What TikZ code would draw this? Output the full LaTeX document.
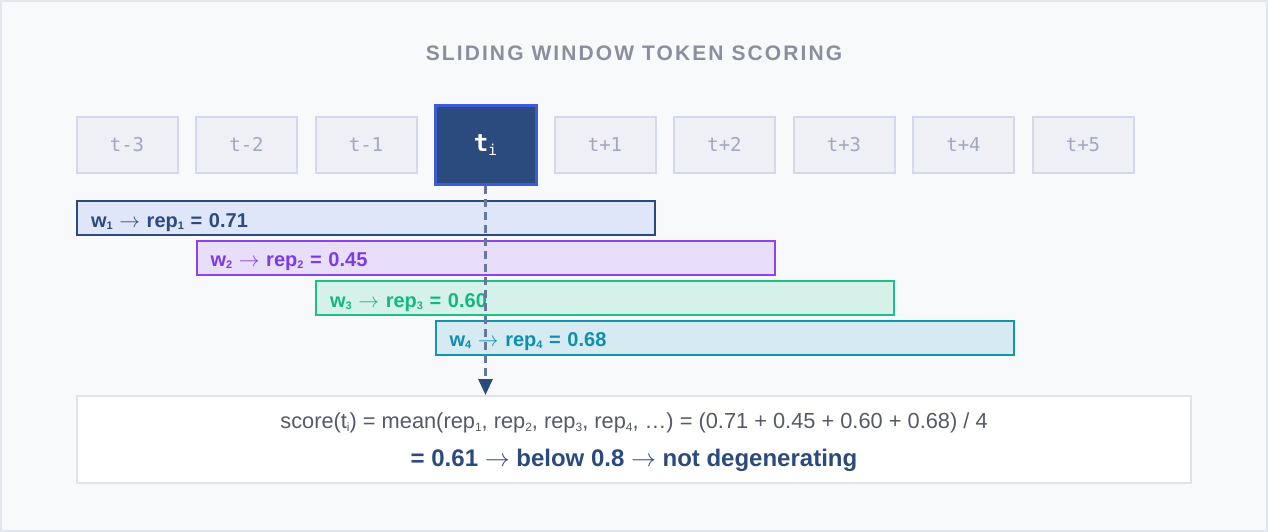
\documentclass[tikz,border=0pt]{standalone}
\usepackage{fontspec}
\setmainfont{Liberation Sans}
\newfontfamily\monofont{DejaVu Sans Mono}
\newfontfamily\titlefont[LetterSpace=10]{Liberation Sans}
\usetikzlibrary{arrows.meta}
\newcommand{\sbd}[1]{\raisebox{-0.12em}{\fontsize{0.55em}{0.6em}\selectfont #1}}
\newcommand{\arr}{ $\rightarrow$ }
\definecolor{bgc}{HTML}{F8F9FB}
\definecolor{framec}{HTML}{E3E6EC}
\definecolor{tokfill}{HTML}{EEF0F6}
\definecolor{tokdraw}{HTML}{D3D8EA}
\definecolor{toktext}{HTML}{A0A8C0}
\definecolor{navy}{HTML}{2B4A7E}
\definecolor{tiborder}{HTML}{3B5BDB}
\definecolor{wonefill}{HTML}{E0E6FA}
\definecolor{wtwofill}{HTML}{E8DEF9}
\definecolor{wtwodraw}{HTML}{8B45F0}
\definecolor{wtwotext}{HTML}{7C3AED}
\definecolor{wthreefill}{HTML}{D6F1E9}
\definecolor{wthreedraw}{HTML}{1DBF87}
\definecolor{wthreetext}{HTML}{10B981}
\definecolor{wfourfill}{HTML}{D5EAF1}
\definecolor{wfourdraw}{HTML}{1493B0}
\definecolor{wfourtext}{HTML}{0E8FAF}
\definecolor{titlec}{HTML}{8A8F9E}
\definecolor{scoretext}{HTML}{555A66}
\definecolor{boxdraw}{HTML}{E0E3EA}
\definecolor{dashc}{HTML}{66779B}
\begin{document}
\begin{tikzpicture}[x=1pt,y=-1pt,
  tok/.style={draw=tokdraw, fill=tokfill, line width=2pt, minimum width=101pt, minimum height=56pt, inner sep=0pt, text height=12pt, text depth=0pt, text=toktext, font=\monofont\fontsize{19}{22}\selectfont},
  cur/.style={draw=tiborder, fill=navy, line width=3pt, minimum width=101pt, minimum height=79pt, inner sep=0pt, text=white, font=\monofont\bfseries\fontsize{24}{28}\selectfont},
  bar/.style={line width=2pt, minimum height=34pt, inner xsep=14pt, inner ysep=0pt, text width=550pt, text height=18pt, text depth=0pt, align=left, font=\bfseries\fontsize{20}{23}\selectfont},
  scorebox/.style={draw=boxdraw, fill=white, line width=2pt, minimum width=1114pt, minimum height=87pt, inner sep=0pt},
  dashline/.style={draw=dashc, line width=3pt, dash pattern=on 8pt off 5pt, -{Triangle[width=14pt,length=16pt,color=navy]}}
]
\useasboundingbox (0,0) rectangle (1268,532);
\fill[bgc] (0,0) rectangle (1268,532);
\draw[framec, line width=2pt] (1,1) rectangle (1267,531);

\node[text=titlec, font=\titlefont\bfseries\fontsize{21}{24}\selectfont] (title) at (634,53) {SLIDING WINDOW TOKEN SCORING};

\node[tok] (tm3) at (127,145) {t-3};
\node[tok] (tm2) at (246.5,145) {t-2};
\node[tok] (tm1) at (366,145) {t-1};
\node[cur] (ti) at (485.5,145) {t\raisebox{-0.2em}{\fontsize{15}{15}\selectfont\mdseries i}};
\node[tok] (tp1) at (605,145) {t+1};
\node[tok] (tp2) at (724.5,145) {t+2};
\node[tok] (tp3) at (844,145) {t+3};
\node[tok] (tp4) at (963.5,145) {t+4};
\node[tok] (tp5) at (1083,145) {t+5};

\node[bar, draw=navy, fill=wonefill, text=navy] (w1) at (366,218) {w\sbd{1}\arr rep\sbd{1} = 0.71};
\node[bar, draw=wtwodraw, fill=wtwofill, text=wtwotext] (w2) at (485.5,257.5) {w\sbd{2}\arr rep\sbd{2} = 0.45};
\node[bar, draw=wthreedraw, fill=wthreefill, text=wthreetext] (w3) at (605,298) {w\sbd{3}\arr rep\sbd{3} = 0.60};
\node[bar, draw=wfourdraw, fill=wfourfill, text=wfourtext] (w4) at (724.5,337.5) {w\sbd{4}\arr rep\sbd{4} = 0.68};

\node[scorebox] (score) at (634,439.5) {};
\node[text=scoretext, font=\fontsize{21.8}{24}\selectfont] (line1) at (634,423) {score(t\sbd{i}) = mean(rep\sbd{1}, rep\sbd{2}, rep\sbd{3}, rep\sbd{4}, …) = (0.71 + 0.45 + 0.60 + 0.68) / 4};
\node[text=navy, font=\bfseries\fontsize{24}{27}\selectfont] (line2) at (634,460) {= 0.61\arr below 0.8\arr not degenerating};

\draw[dashline] (ti.south) -- (ti.south |- score.north);
\end{tikzpicture}
\end{document}
